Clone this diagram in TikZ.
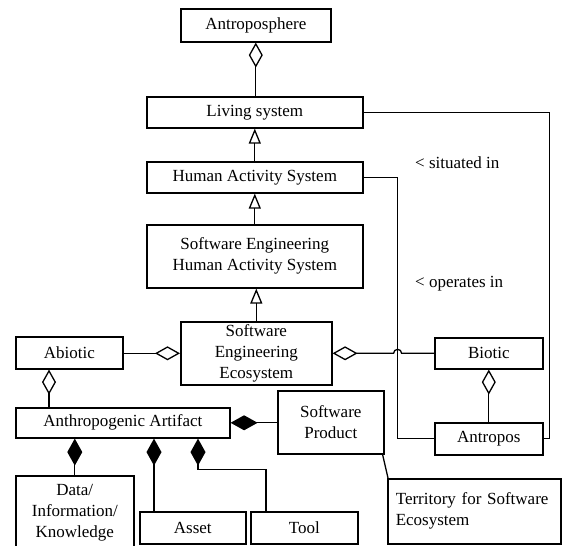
\documentclass[tikz,border=0pt]{standalone}
\usepackage{fontspec}
\setmainfont{Liberation Serif}
\usetikzlibrary{arrows.meta,shadows}
\begin{document}
\begin{tikzpicture}[x=1pt,y=-1pt,
  box/.style={draw, line width=1.6pt, fill=white, inner sep=0pt, anchor=north west,
    align=center, font=\fontsize{17}{21}\selectfont,
    drop shadow={shadow xshift=1.4pt, shadow yshift=-1.4pt, fill=black!75, opacity=1}},
  lbl/.style={font=\fontsize{17}{21}\selectfont, inner sep=0pt},
  conn/.style={line width=1.3pt},
  od/.style={conn, {Diamond[open,length=25pt,width=14pt,line width=1.3pt]}-},
  fd/.style={conn, {Diamond[length=27pt,width=15pt]}-},
  gen/.style={conn, -{Triangle[open,length=15pt,width=12pt,line width=1.3pt]}},
]
\useasboundingbox (0,0) rectangle (563,546);

% classes
\node[box, minimum width=150pt, minimum height=33pt] (anto) at (180,8) {Antroposphere};
\node[box, minimum width=216pt, minimum height=31pt] (living) at (146,96) {Living system};
\node[box, minimum width=216pt, minimum height=31pt] (has) at (146,161) {Human Activity System};
\node[box, minimum width=216pt, minimum height=63pt] (sehas) at (146,224) {Software Engineering\\Human Activity System};
\node[box, minimum width=151pt, minimum height=63pt] (see) at (180,321) {Software\\Engineering\\Ecosystem};
\node[box, minimum width=107pt, minimum height=32pt] (abiotic) at (15,336) {Abiotic};
\node[box, minimum width=108pt, minimum height=31pt] (biotic) at (434,337) {Biotic};
\node[box, minimum width=108pt, minimum height=32pt] (antropos) at (434,422) {Antropos};
\node[box, minimum width=214pt, minimum height=30pt] (aa) at (15,407) {Anthropogenic Artifact};
\node[box, minimum width=106pt, minimum height=63pt] (sp) at (277,390) {Software\\Product};
\node[box, text width=157pt, inner xsep=8pt, minimum height=65pt, align=left] (terr) at (387,478) {Territory for Software\\Ecosystem};
\node[box, minimum width=118pt, minimum height=74pt] (data) at (15,475) {Data/\\Information/\\Knowledge};
\node[box, minimum width=106pt, minimum height=32pt] (asset) at (139,511) {Asset};
\node[box, minimum width=107pt, minimum height=32pt] (tool) at (250,511) {Tool};

% aggregation and generalisation
\draw[od] (anto.south) -- (anto.south |- living.north);
\draw[gen] (has.north) -- (living.south);
\draw[gen] (sehas.north) -- (has.south);
\draw[gen] (see.north) -- (see.north |- sehas.south);
\draw[od] (see.west) -- (see.west -| abiotic.east);
\coordinate (bend) at ([xshift=34pt]has.east);
\draw[od] (see.east) -- ([xshift=-4pt]bend |- see.east) arc[start angle=180, end angle=0, radius=4pt] -- (see.east -| biotic.west);
\draw[od] (biotic.south) -- (antropos.north);
\draw[od] ([xshift=34pt]abiotic.south west) -- ([xshift=34pt]abiotic.south west |- aa.north);

% associations
\draw[conn] (living.east) -- ([xshift=186pt]living.east) |- (antropos.east);
\draw[conn] (has.east) -- (bend) |- (antropos.west);
\node[lbl, anchor=west] (sit) at (415,163) {< situated in};
\node[lbl, anchor=west] (ope) at (415,284) {< operates in};

% composition
\draw[fd] (aa.east) -- (aa.east -| sp.west);
\draw[fd] (data.north |- aa.south) -- (data.north);
\draw[fd] ([xshift=15pt]asset.north west |- aa.south) -- ([xshift=15pt]asset.north west);
\draw[fd] ([xshift=183pt]aa.south west) -- ++(0,31) -| ([xshift=16pt]tool.north west);

% note anchor
\draw[conn] ([xshift=-2pt]sp.south east) -- ([xshift=1pt]terr.north west);
\end{tikzpicture}
\end{document}
